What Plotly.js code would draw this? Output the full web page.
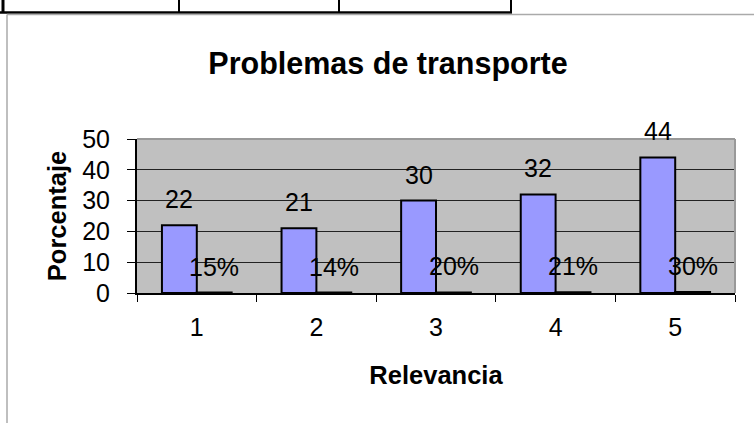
<!DOCTYPE html>
<html>
<head>
<meta charset="utf-8">
<script src="https://cdn.plot.ly/plotly-3.0.1.min.js"></script>
<style>html,body{margin:0;padding:0;background:#fff;}#chart{width:754px;height:423px;}</style>
</head>
<body>
<div id="chart"></div>
<script>
// Data
const categories = ["1", "2", "3", "4", "5"];
const counts = [22, 21, 30, 32, 44];
const shares = [0.15, 0.14, 0.20, 0.21, 0.30];
const chartTitle = "Problemas de transporte";
const xTitle = "Relevancia";
const yTitle = "Porcentaje";

const FONT = "Liberation Sans, Arial, sans-serif";

const traces = [
  {
    type: "bar", x: categories, y: counts, name: "Cantidad",
    marker: {color: "#9999FF", line: {color: "#000", width: 2}},
    hoverinfo: "none"
  },
  {
    type: "bar", x: categories, y: shares, name: "Porcentaje",
    marker: {color: "#993366", line: {color: "#000", width: 2}},
    hoverinfo: "none"
  }
];

const labelFont = {family: FONT, size: 25, color: "#000"};
const annotations = [];
categories.forEach((c, i) => {
  // on a category axis an annotation x is the category's index
  annotations.push({x: i, y: counts[i], text: String(counts[i]), showarrow: false,
    xanchor: "center", yanchor: "bottom", xshift: -17.5, yshift: 10, font: labelFont});
  annotations.push({x: i, y: shares[i], text: Math.round(shares[i] * 100) + "%", showarrow: false,
    xanchor: "center", yanchor: "bottom", xshift: 17.5, yshift: 10, font: labelFont});
});

function px(x) { return (x - 137) / 598; }
function py(y) { return (293 - y) / 154; }

const shapes = [
  // plot frame top/right (gray)
  {type: "line", xref: "paper", yref: "paper", x0: 0, x1: 1, y0: 1, y1: 1, line: {color: "#999", width: 2}},
  {type: "line", xref: "paper", yref: "paper", x0: 1, x1: 1, y0: 0, y1: 1, line: {color: "#999", width: 2}},
  // table lines at top
  {type: "line", xref: "paper", yref: "paper", x0: px(0), x1: px(512), y0: py(12.5), y1: py(12.5), line: {color: "#000", width: 2.5}},
  {type: "line", xref: "paper", yref: "paper", x0: px(3), x1: px(3), y0: py(0), y1: py(13), line: {color: "#000", width: 3}},
  {type: "line", xref: "paper", yref: "paper", x0: px(179), x1: px(179), y0: py(0), y1: py(13), line: {color: "#000", width: 2}},
  {type: "line", xref: "paper", yref: "paper", x0: px(339), x1: px(339), y0: py(0), y1: py(13), line: {color: "#000", width: 2}},
  {type: "line", xref: "paper", yref: "paper", x0: px(511), x1: px(511), y0: py(0), y1: py(13), line: {color: "#000", width: 2}},
  // chart object border (gray)
  {type: "line", xref: "paper", yref: "paper", x0: px(7), x1: px(760), y0: py(14.5), y1: py(14.5), line: {color: "#aaa", width: 1.5}},
  {type: "line", xref: "paper", yref: "paper", x0: px(7), x1: px(7), y0: py(14.5), y1: py(430), line: {color: "#aaa", width: 1.5}}
];

const layout = {
  width: 754, height: 423,
  margin: {l: 137, r: 19, t: 139, b: 130, pad: 0},
  paper_bgcolor: "#fff",
  plot_bgcolor: "#C0C0C0",
  showlegend: false,
  barmode: "group",
  bargap: 0.417,
  bargroupgap: 0,
  font: {family: FONT, color: "#000"},
  title: {
    text: "<b>" + chartTitle + "</b>",
    font: {family: FONT, size: 30.5, color: "#000"},
    xref: "container", yref: "container",
    x: 0.5146, xanchor: "center",
    y: 1 - 63 / 423, yanchor: "middle"
  },
  xaxis: {
    type: "category",
    range: [-0.5, 4.5],
    tickson: "boundaries",
    ticks: "outside", ticklen: 7, tickcolor: "#000", tickwidth: 1,
    showline: true, linecolor: "#000", linewidth: 2,
    showgrid: false, zeroline: false,
    tickfont: {family: FONT, size: 25, color: "#000"},
    ticklabelstandoff: 11,
    title: {text: "<b>" + xTitle + "</b>", font: {family: FONT, size: 25.5, color: "#000"}, standoff: 26},
    automargin: false, fixedrange: true
  },
  yaxis: {
    range: [0, 50], dtick: 10, tick0: 0,
    ticks: "outside", ticklen: 8, tickcolor: "#000", tickwidth: 1,
    showline: true, linecolor: "#000", linewidth: 2,
    showgrid: true, gridcolor: "#222", gridwidth: 1,
    zeroline: false,
    tickfont: {family: FONT, size: 25, color: "#000"},
    ticklabelstandoff: 12,
    title: {text: "<b>" + yTitle + "</b>", font: {family: FONT, size: 25.5, color: "#000"}, standoff: 8},
    automargin: false, fixedrange: true
  },
  annotations: annotations,
  shapes: shapes
};

Plotly.newPlot("chart", traces, layout, {staticPlot: true, displayModeBar: false});
</script>
</body>
</html>
